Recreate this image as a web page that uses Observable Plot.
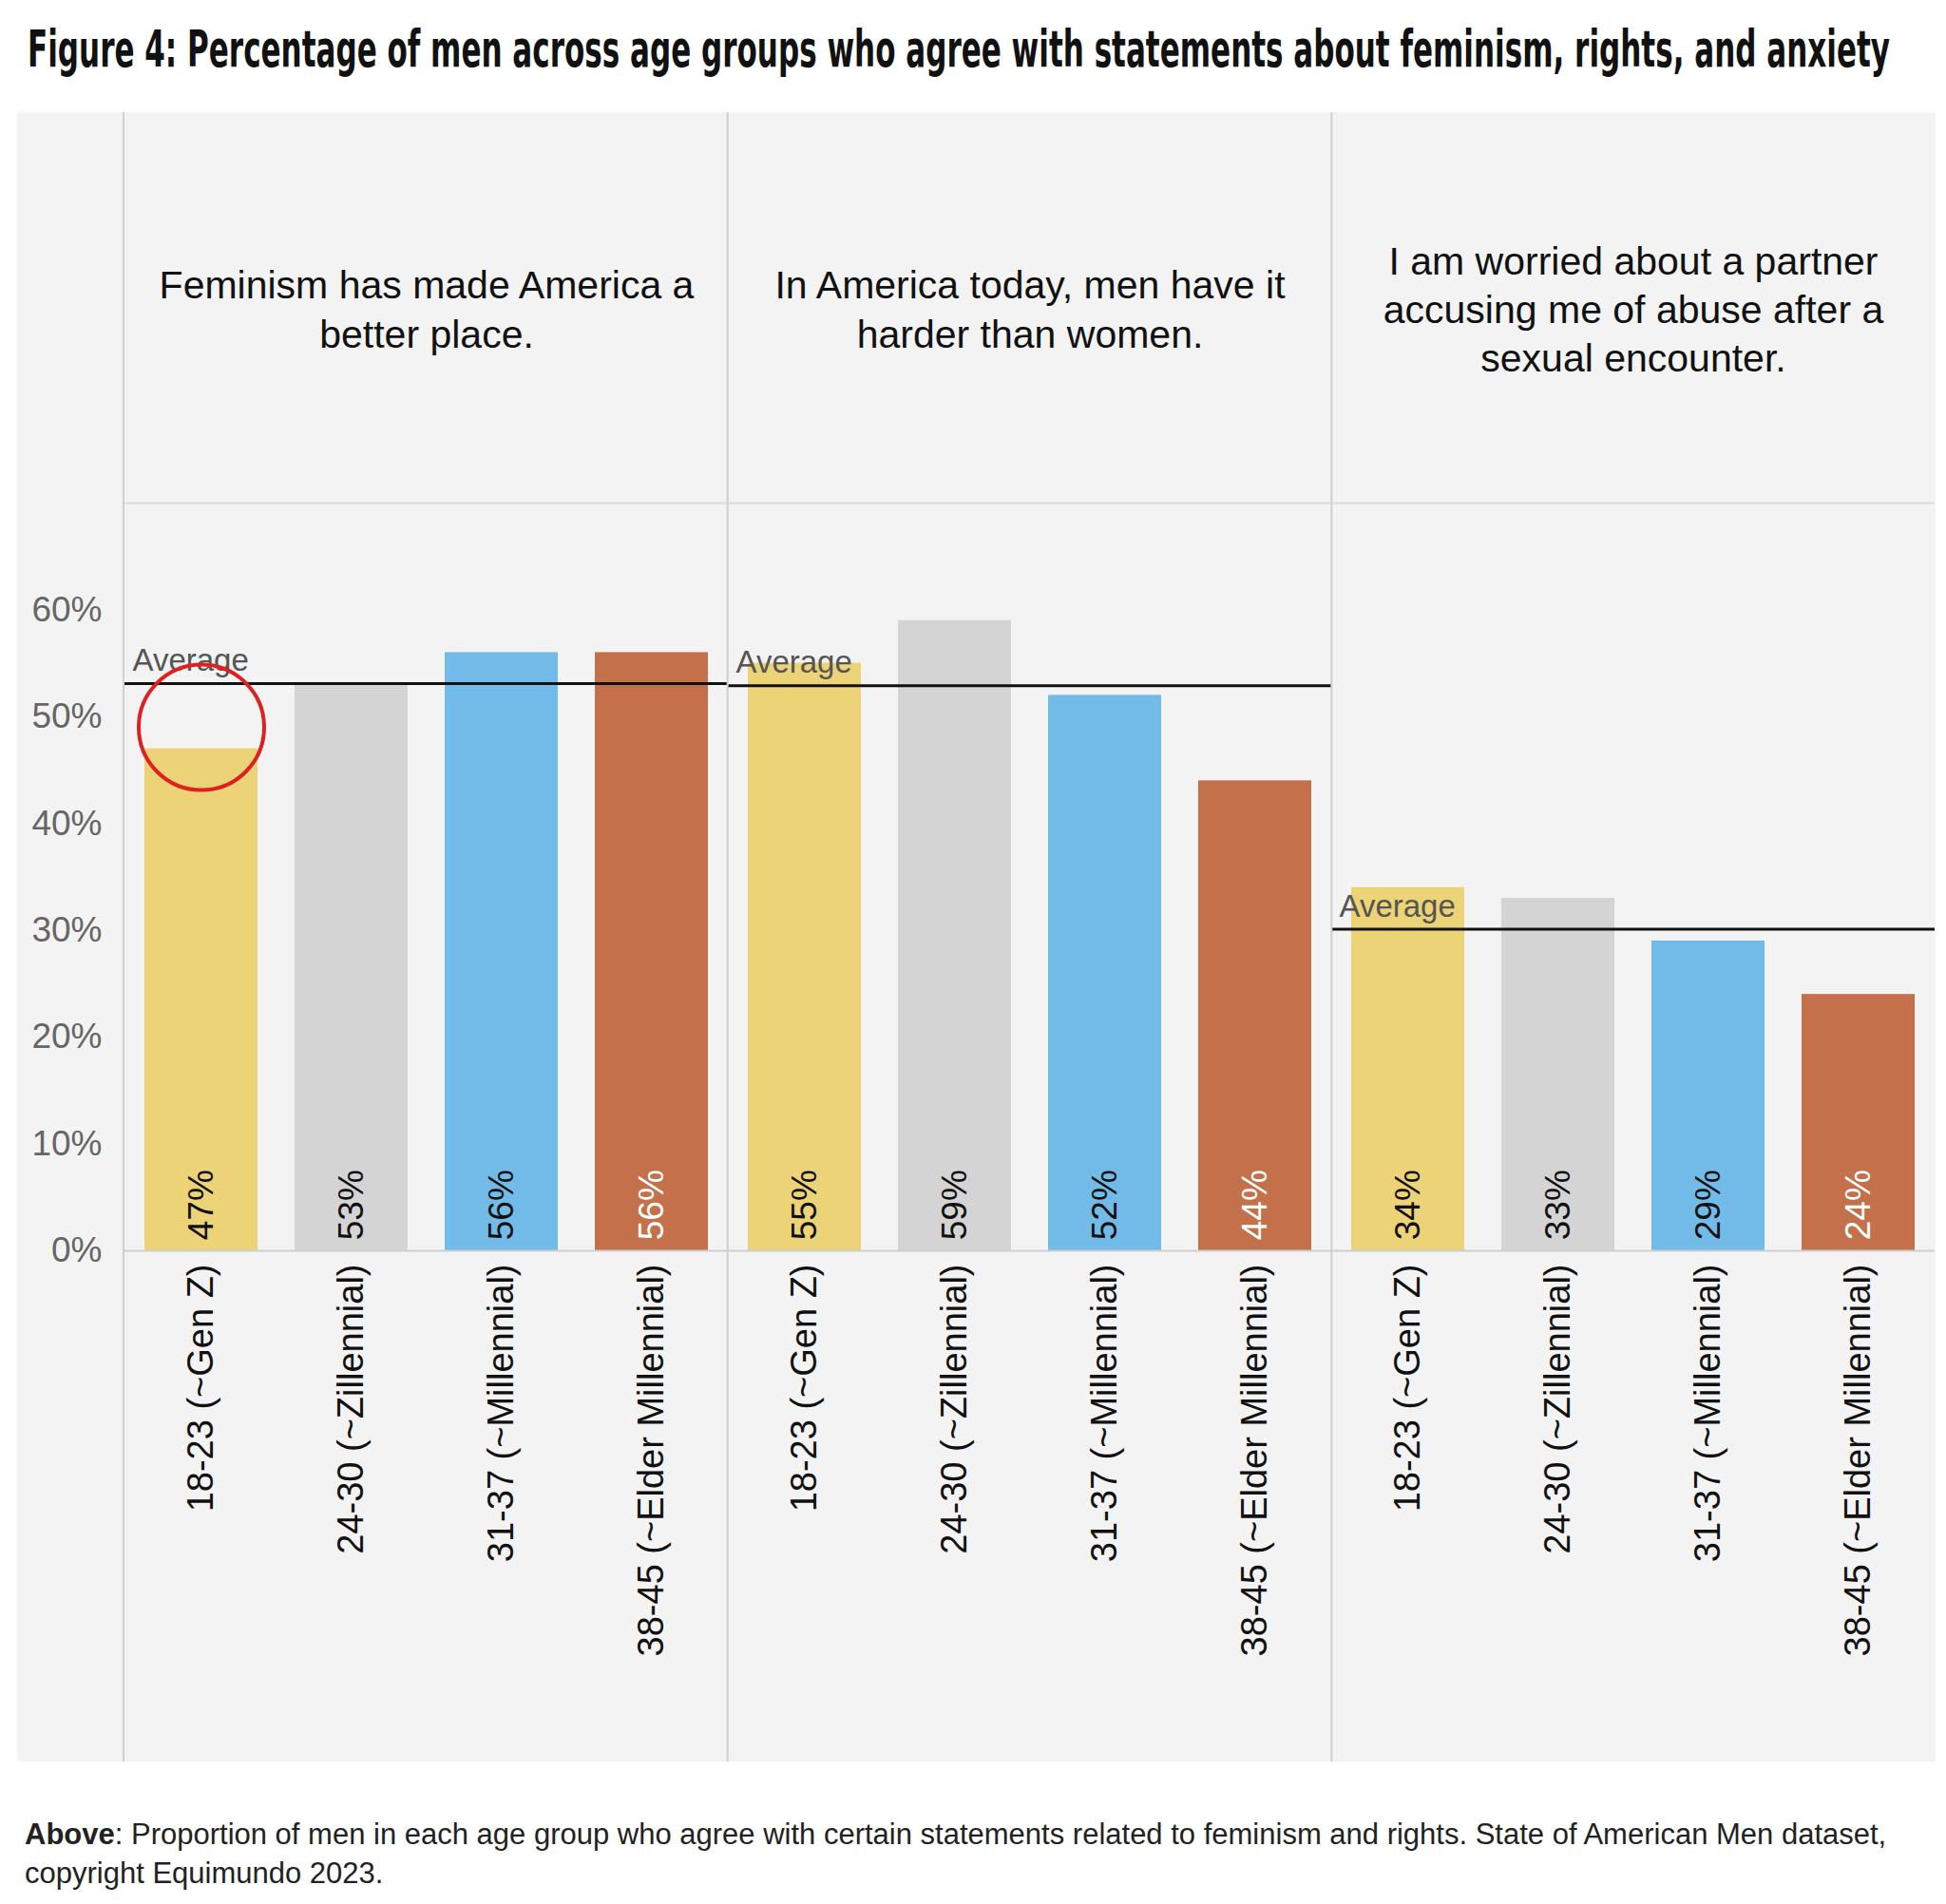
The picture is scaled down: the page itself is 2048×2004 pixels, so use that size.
<!DOCTYPE html>
<html><head><meta charset="utf-8">
<script src="https://cdn.jsdelivr.net/npm/d3@7"></script>
<script src="https://cdn.jsdelivr.net/npm/@observablehq/plot@0.6"></script>
<style>
body{margin:0;background:#fff;width:2048px;height:2004px;position:relative;font-family:"Liberation Sans",Arial,sans-serif;}
#title{position:absolute;left:0;top:0;}
#chart{position:absolute;left:18px;top:118px;}
#cap{position:absolute;left:26px;top:1910px;width:1980px;font-size:31px;line-height:41px;color:#222;}
</style></head><body>
<svg id="title" width="2048" height="110"><text x="29" y="70" textLength="1960" lengthAdjust="spacingAndGlyphs" font-family="'DejaVu Sans Condensed','Liberation Sans Narrow',sans-serif" font-weight="bold" font-size="54" fill="#111">Figure 4: Percentage of men across age groups who agree with statements about feminism, rights, and anxiety</text></svg>
<div id="chart"></div>
<div id="cap"><b>Above</b>: Proportion of men in each age group who agree with certain statements related to feminism and rights. State of American Men dataset, copyright Equimundo 2023.</div>
<script>
const statements = ["Feminism has made America a\nbetter place.", "In America today, men have it\nharder than women.", "I am worried about a partner\naccusing me of abuse after a\nsexual encounter."];
const ages = ["18-23 (~Gen Z)", "24-30 (~Zillennial)", "31-37 (~Millennial)", "38-45 (~Elder Millennial)"];
const feminism = [47, 53, 56, 56];
const harder = [55, 59, 52, 44];
const worried = [34, 33, 29, 24];
const averages = [53.1, 52.9, 30.1];
const colors = ["#ecd377", "#d4d4d4", "#72bbe8", "#c4704a"];
const yTicks = [0, 10, 20, 30, 40, 50, 60];

const series = [feminism, harder, worried];
const data = [];
series.forEach((vals, i) => vals.forEach((v, j) => data.push({statement: statements[i], age: ages[j], value: v})));
const avgData = statements.map((s, i) => ({statement: s, value: averages[i]}));

const W = 2019, H = 1736, ML = 112;
const plot = Plot.plot({
  width: W, height: H, marginTop: 411, marginBottom: 538, marginLeft: ML, marginRight: 0,
  style: {background: "#f3f3f3", fontFamily: "'Liberation Sans', Arial, sans-serif", fontSize: "34px", overflow: "visible"},
  fx: {domain: statements, padding: 0, axis: null, label: null},
  x: {domain: ages, paddingInner: 0.25, paddingOuter: 0.125, axis: null, label: null},
  y: {domain: [0, 70], axis: null, label: null},
  color: {domain: ages, range: colors},
  marks: [
    Plot.ruleY([70], {stroke: "#dcdcdc", strokeWidth: 2}),
    Plot.axisY({ticks: yTicks, tickFormat: d => d + "%", tickSize: 0, tickPadding: 24, fontSize: 37, fill: "#666", label: null}),
    Plot.barY(data, {fx: "statement", x: "age", y: "value", fill: "age"}),
    Plot.ruleY([0], {stroke: "#cfcfcf", strokeWidth: 2}),
    Plot.axisX({tickRotate: -90, tickSize: 0, tickPadding: 14, fontSize: 38, fill: "#111", label: null}),
    Plot.text(data, {fx: "statement", x: "age", y: 1, text: d => d.value + "%", rotate: -90, textAnchor: "start", fontSize: 37,
      fill: d => d.age === ages[3] ? "#fff" : "#111"}),
    Plot.ruleY(avgData, {fx: "statement", y: "value", stroke: "#111", strokeWidth: 3}),
    Plot.text(avgData, {fx: "statement", y: "value", text: () => "Average", frameAnchor: "left", textAnchor: "start", dx: 8, dy: -24, fontSize: 33, fill: "#555"}),
    Plot.text(statements, {fx: d => d, text: d => d, frameAnchor: "top", lineAnchor: "middle", dy: -206, fontSize: 41, fill: "#111", lineHeight: 1.25}),
    Plot.dot([{statement: statements[0], age: ages[0], value: 49}], {fx: "statement", x: "age", y: "value", r: 66, stroke: "#e02020", strokeWidth: 4, fill: "none"})
  ]
});
const svg = d3.select(plot);
const fw = (W - ML) / 3;
for (let i = 0; i < 3; i++) {
  svg.append("line").attr("x1", ML + i * fw).attr("x2", ML + i * fw).attr("y1", 0).attr("y2", H)
    .attr("stroke", "#cfcfcf").attr("stroke-width", 2);
}
document.getElementById("chart").appendChild(plot);
</script>
</body></html>
